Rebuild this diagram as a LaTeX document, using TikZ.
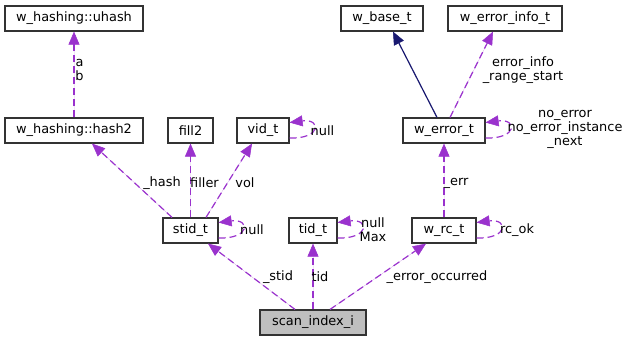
\documentclass[tikz,border=0pt]{standalone}
\usepackage{fontspec}
\setmainfont{DejaVu Sans}
\usetikzlibrary{arrows.meta,calc}
\definecolor{edgepurple}{HTML}{9A32CD}
\definecolor{edgenavy}{HTML}{191970}
\definecolor{focusgray}{HTML}{BFBFBF}
\begin{document}
\begin{tikzpicture}[x=1bp,y=-1bp,
  every node/.style={font=\fontsize{12.9bp}{14bp}\selectfont},
  cls/.style={draw=black!80, line width=1.2bp, fill=white, minimum height=25bp, inner sep=0pt, anchor=center},
  >={Triangle[length=13bp,width=11bp,line width=0.5bp]},
  usage/.style={draw=edgepurple, fill=edgepurple, line width=1.2bp, dash pattern=on 7bp off 4bp, ->},
  inherit/.style={draw=edgenavy, fill=edgenavy, line width=1.2bp, ->},
  lbl/.style={inner sep=0pt, align=center},
]
\useasboundingbox (0,0) rectangle (629,341);

% classes
\node[cls, minimum width=138bp] (uhash) at (74,18.5)   {w\_hashing::uhash};
\node[cls, minimum width=138bp] (hash2) at (74,130.5)  {w\_hashing::hash2};
\node[cls, minimum width=45bp]  (fill)  at (190.5,130.5) {fill2};
\node[cls, minimum width=52bp]  (vid)   at (263,130.5) {vid\_t};
\node[cls, minimum width=82bp]  (wbase) at (382,18.5)  {w\_base\_t};
\node[cls, minimum width=114bp] (winfo) at (505,18.5)  {w\_error\_info\_t};
\node[cls, minimum width=82bp]  (werr)  at (444,130.5) {w\_error\_t};
\node[cls, minimum width=55bp]  (stid)  at (190.5,230.5) {stid\_t};
\node[cls, minimum width=48bp]  (tid)   at (313,230.5) {tid\_t};
\node[cls, minimum width=64bp]  (wrc)   at (444,230.5) {w\_rc\_t};
\node[cls, minimum width=106bp, fill=focusgray] (scan) at (313,322.5) {scan\_index\_i};

% member relations
\draw[usage] (hash2.north) -- (uhash.south);
\draw[usage] ($(stid.north)+(-18.5,0)$) -- ($(hash2.south)+(18,0)$);
\draw[usage] (stid.north) -- (fill.south);
\draw[usage] ($(stid.north)+(15.5,0)$) -- ($(vid.south)+(-11,0)$);
\draw[usage] ($(scan.north)+(-18,0)$) -- ($(stid.south)+(17.5,0)$);
\draw[usage] (scan.north) -- (tid.south);
\draw[usage] ($(scan.north)+(17,0)$) -- ($(wrc.south)+(-18,0)$);
\draw[usage] (wrc.north) -- (werr.south);
\draw[usage] ($(werr.north)+(6,0)$) -- ($(winfo.south)+(-12,0)$);

% inheritance
\draw[inherit] ($(werr.north)+(-7,0)$) -- ($(wbase.south)+(11,0)$);

% self references
\foreach \n in {stid,vid,tid,wrc,werr}{
  \draw[usage, fill=none] ($(\n.east)+(0,7.5)$) .. controls +(32,1) and +(32,-4) .. ($(\n.east)+(0,-8)$);
}

% relation labels
\node[lbl] (lab)    at (79.5,70)  {a\\b};
\node[lbl] (lhash)  at (162,183)  {\_hash};
\node[lbl] (lfill)  at (204.5,183) {filler};
\node[lbl] (lvol)   at (245,183)  {vol};
\node[lbl] (lvidn)  at (322.5,131) {null};
\node[lbl] (lstidn) at (252,230)  {null};
\node[lbl] (ltidn)  at (373,230)  {null\\Max};
\node[lbl] (lstid)  at (278,277)  {\_stid};
\node[lbl] (ltid)   at (320,277)  {tid};
\node[lbl] (locc)   at (437,277)  {\_error\_occurred};
\node[lbl] (lrcok)  at (517,230)  {rc\_ok};
\node[lbl] (lerr)   at (456,183)  {\_err};
\node[lbl] (linfo)  at (523,70)   {error\_info\\\_range\_start};
\node[lbl] (lnoerr) at (565,129.5) {no\_error\\no\_error\_instance\\\_next};
\end{tikzpicture}
\end{document}
